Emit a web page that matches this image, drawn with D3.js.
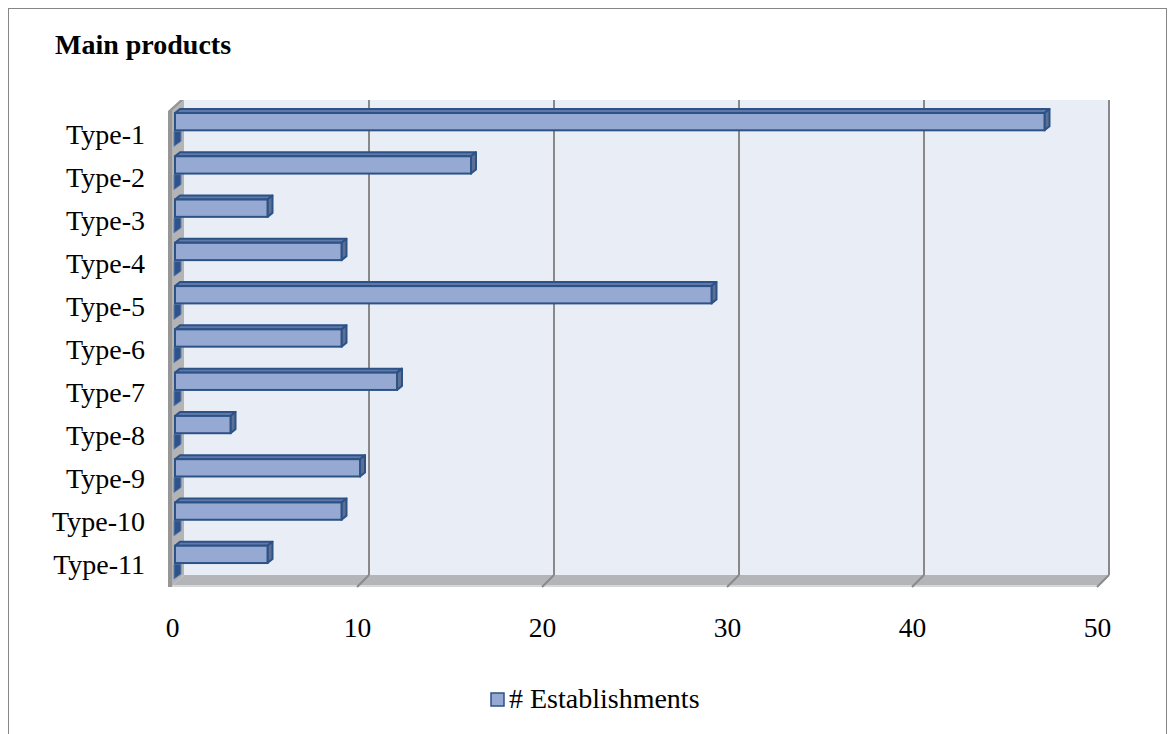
<!DOCTYPE html>
<html>
<head>
<meta charset="utf-8">
<script src="https://cdn.jsdelivr.net/npm/d3@7/dist/d3.min.js"></script>
<style>
  html, body { margin: 0; padding: 0; background: #ffffff; }
  svg text { font-family: "Liberation Serif", "Times New Roman", serif; fill: #000; }
</style>
</head>
<body>
<svg id="chart" width="1170" height="734"></svg>
<script>
// Product types and number of establishments producing each
const categories = ["Type-1", "Type-2", "Type-3", "Type-4", "Type-5", "Type-6",
                    "Type-7", "Type-8", "Type-9", "Type-10", "Type-11"];
const establishments = [47, 16, 5, 9, 29, 9, 12, 3, 10, 9, 5];
const xTicks = [0, 10, 20, 30, 40, 50];
const seriesName = "# Establishments";
const chartTitle = "Main products";

const svg = d3.select("#chart");

// 3D box geometry: front plane and the depth offset to the back wall
const frontLeft = 172, frontRight = 1097;
const depthX = 12, depthY = -11;
const plotTop = 111, plotBottom = 586;

const x = d3.scaleLinear().domain([0, 50]).range([frontLeft, frontRight]);
// bars sit slightly behind the front plane
const barPlaneShift = 3;
const xBar = d3.scaleLinear().domain([0, 50]).range([frontLeft + barPlaneShift, frontRight + barPlaneShift]);
// bars on the front plane, labels laid out on the projected axis
const y = d3.scaleBand().domain(categories).range([113, 589]).padding(0);
const yLabel = d3.scaleBand().domain(categories).range([114, 587]).padding(0);
const barH = y.bandwidth() * 0.4;
const barDx = 5, barDy = -4;

// chart area border
svg.append("rect")
  .attr("x", 8.5).attr("y", 8.5).attr("width", 1158).attr("height", 760)
  .attr("fill", "#ffffff").attr("stroke", "#868686").attr("stroke-width", 1);

// title
svg.append("text")
  .attr("x", 55).attr("y", 54)
  .attr("font-size", 28).attr("font-weight", "bold")
  .text(chartTitle);

// back wall
svg.append("rect")
  .attr("x", frontLeft + depthX).attr("y", plotTop + depthY)
  .attr("width", x(50) - x(0)).attr("height", plotBottom - plotTop)
  .attr("fill", "#e9edf6");

// floor
const floorPts = [
  [x(0), plotBottom], [x(50), plotBottom],
  [x(50) + depthX, plotBottom + depthY], [x(0) + depthX, plotBottom + depthY]
];
svg.append("polygon")
  .attr("points", floorPts.map(p => p.join(",")).join(" "))
  .attr("fill", "#b3b5b9");
svg.append("line")
  .attr("x1", x(0)).attr("x2", x(50))
  .attr("y1", plotBottom).attr("y2", plotBottom)
  .attr("stroke", "#d6d7d9").attr("stroke-width", 2);

// vertical gridlines on the back wall, continuing across the floor
const grid = svg.append("g");
xTicks.filter(t => t > 0).forEach(t => {
  grid.append("line")
    .attr("x1", x(t) + depthX).attr("x2", x(t) + depthX)
    .attr("y1", plotTop + depthY).attr("y2", plotBottom + depthY)
    .attr("stroke", "#898989").attr("stroke-width", 2);
  grid.append("line")
    .attr("x1", x(t) + depthX).attr("x2", x(t))
    .attr("y1", plotBottom + depthY).attr("y2", plotBottom + 1)
    .attr("stroke", "#898989").attr("stroke-width", 2);
});

// left side wall
svg.append("polygon")
  .attr("points", [
    [x(0), plotTop], [x(0) + depthX, plotTop + depthY],
    [x(0) + depthX, plotBottom + depthY], [x(0), plotBottom]
  ].map(p => p.join(",")).join(" "))
  .attr("fill", "#b4b4b4");
svg.append("polygon")
  .attr("points", [
    [x(0) - 4, plotTop], [x(0) - 4 + depthX, plotTop + depthY],
    [x(0) + depthX, plotTop + depthY], [x(0), plotTop],
    [x(0), plotBottom + 1], [x(0) - 4, plotBottom + 1]
  ].map(p => p.join(",")).join(" "))
  .attr("fill", "#969696");

// bar shadows falling on the side wall
const shadows = svg.append("g");
categories.forEach(c => {
  const yb = y(c) + barH + 1;
  shadows.append("polygon")
    .attr("points", [
      [x(0) + 2, yb], [x(0) + 9, yb], [x(0) + 9, yb + 10], [x(0) + 2, yb + 15]
    ].map(p => p.join(",")).join(" "))
    .attr("fill", "#2f528a").attr("stroke", "#5f7fae").attr("stroke-width", 1);
});

// 3D bars: top face, end cap, front face
const bars = svg.append("g");
categories.forEach((c, i) => {
  const v = establishments[i];
  const x0 = xBar(0), x1 = xBar(v);
  const y0 = y(c), y1 = y(c) + barH;
  const g = bars.append("g");
  g.append("polygon")
    .attr("points", [[x0, y0], [x0 + barDx, y0 + barDy], [x1 + barDx, y0 + barDy], [x1, y0]]
      .map(p => p.join(",")).join(" "))
    .attr("fill", "#6079ab").attr("stroke", "#2c5286").attr("stroke-width", 2)
    .attr("stroke-linejoin", "round");
  g.append("polygon")
    .attr("points", [[x1, y0], [x1 + barDx, y0 + barDy], [x1 + barDx, y1 + barDy], [x1, y1]]
      .map(p => p.join(",")).join(" "))
    .attr("fill", "#5c6f95").attr("stroke", "#2c5286").attr("stroke-width", 2)
    .attr("stroke-linejoin", "round");
  g.append("rect")
    .attr("x", x0).attr("y", y0)
    .attr("width", x1 - x0).attr("height", barH)
    .attr("fill", "#95a9d2").attr("stroke", "#2c5286").attr("stroke-width", 2);
});

// category labels
const yLabels = svg.append("g");
categories.forEach(c => {
  yLabels.append("text")
    .attr("x", 145).attr("y", yLabel(c) + yLabel.bandwidth() / 2 + 8)
    .attr("text-anchor", "end").attr("font-size", 28)
    .text(c);
});

// value axis labels
const xAxis = svg.append("g")
  .attr("transform", `translate(0,${plotBottom})`)
  .call(d3.axisBottom(x).tickValues(xTicks).tickSize(0).tickPadding(31));
xAxis.select(".domain").remove();
xAxis.selectAll("text")
  .attr("font-size", 27.5)
  .style("font-family", '"Liberation Serif", "Times New Roman", serif')
  .attr("fill", "#000");

// legend
const legend = svg.append("g");
legend.append("rect")
  .attr("x", 491).attr("y", 693).attr("width", 13).attr("height", 13)
  .attr("fill", "#95a9d2").attr("stroke", "#2c5286").attr("stroke-width", 1.5);
legend.append("text")
  .attr("x", 509).attr("y", 708).attr("font-size", 28)
  .text(seriesName);
</script>
</body>
</html>
